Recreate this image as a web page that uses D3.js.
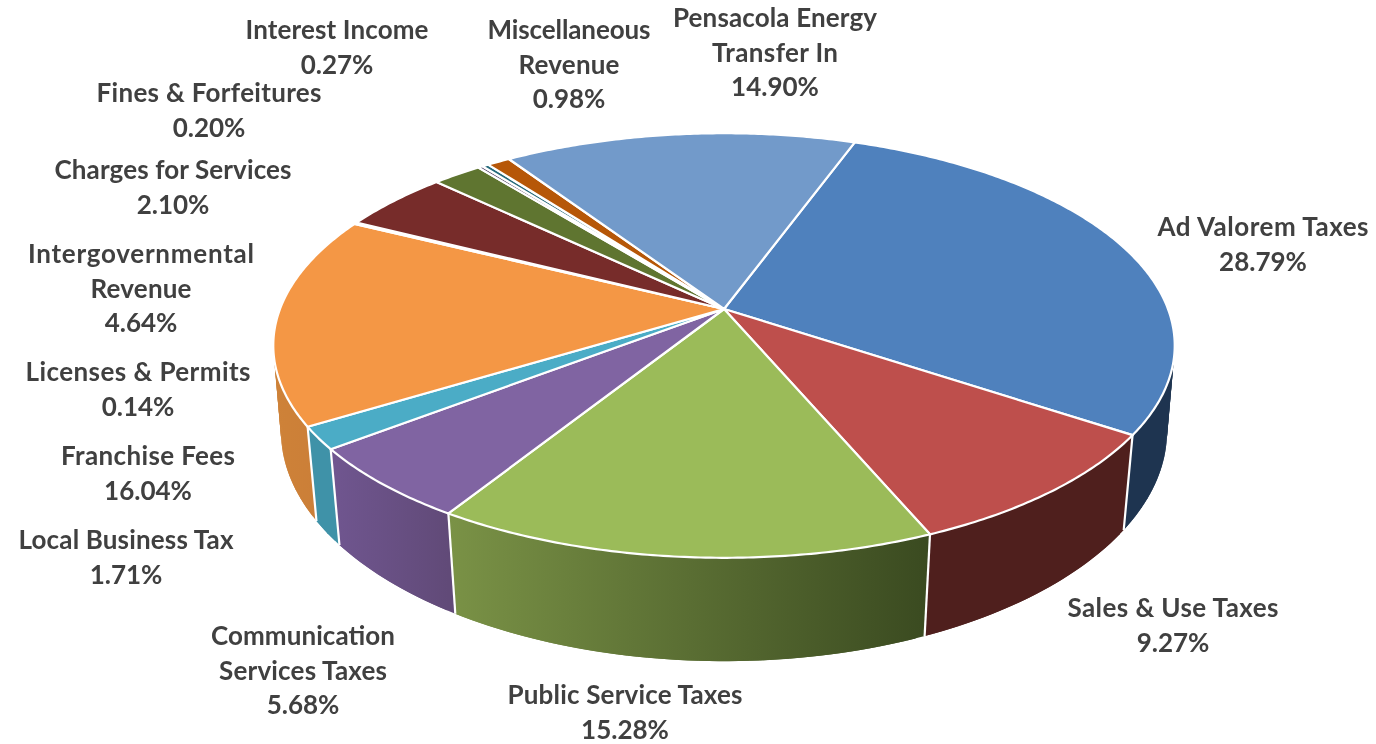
<!DOCTYPE html>
<html><head><meta charset="utf-8">
<script src="https://cdn.jsdelivr.net/npm/d3@7"></script>
<style>html,body{margin:0;background:#fff}svg{display:block;filter:blur(0.45px)}</style></head>
<body><svg id="c" width="1376" height="744"></svg>
<script>
const categories=["Ad Valorem Taxes","Sales & Use Taxes","Public Service Taxes","Communication Services Taxes","Local Business Tax","Franchise Fees","Licenses & Permits","Intergovernmental Revenue","Charges for Services","Fines & Forfeitures","Interest Income","Miscellaneous Revenue","Pensacola Energy Transfer In"];
const values=[28.79,9.27,15.28,5.68,1.71,16.04,0.14,4.64,2.10,0.20,0.27,0.98,14.90];
const topColors=["#4F81BD","#BE4F4C","#9BBB59","#8064A2","#4BACC6","#F49745","#2C4D75","#772C2A","#5F7530","#4D3B62","#276A7C","#B65708","#729ACA"];
const sideStart=["#1E3450","#4F1F1D","#7A9246","#705690","#3F92A8","#CE8238","#1E3450","#4F1F1D","#3B4A20","#33274A","#1A4752","#7A3A05","#4C6A90"];
const sideEnd=["#1E3450","#4F1F1D","#3A4A20","#614A78","#3F92A8","#C97C38","#1E3450","#4F1F1D","#3B4A20","#33274A","#1A4752","#7A3A05","#4C6A90"];
const labelLines=[["Ad Valorem Taxes"],["Sales & Use Taxes"],["Public Service Taxes"],["Communication","Services Taxes"],["Local Business Tax"],["Franchise Fees"],["Licenses & Permits"],["Intergovernmental","Revenue"],["Charges for Services"],["Fines & Forfeitures"],["Interest Income"],["Miscellaneous","Revenue"],["Pensacola Energy","Transfer In"]];
const labelWidths=[[211],[211],[235],[184,168],[215],[174],[225],[226,101],[237],[225],[183],[163,101],[204,126]];
const labelX=[1263,1173,625,303,126,148,138,141,173,209,337,569,775];
const labelY=[236,617,704,645,549,465,381,263,179,102,39,39,27];

const W=1376,H=744,cx=724,cy=309,R=444,S=206,k=0.172;
const depthY=86,growY=1.07;
const topPt=a=>{const u=Math.sin(a),v=-Math.cos(a),d=1-k*v;return [cx+R*u/d,cy+S*v/d];};
const botPt=a=>{const [x,y]=topPt(a),v=-Math.cos(a),sh=0.985-0.012*Math.max(v,0);return [cx+(x-cx)*sh,cy+depthY+(y-cy)*growY];};
const samples=(a0,a1,st)=>{const n=Math.max(2,Math.ceil((a1-a0)/st));return d3.range(n+1).map(i=>a0+(a1-a0)*i/n);};
const line=d3.line().curve(d3.curveLinear);

const arcs=d3.pie().sort(null).value(d=>d).startAngle(20*Math.PI/180).endAngle(380*Math.PI/180)(values);
const svg=d3.select("#c");
const defs=svg.append("defs");
arcs.forEach((d,i)=>{
  const xs=samples(d.startAngle,d.endAngle,0.01).map(a=>topPt(a)[0]);
  const g=defs.append("linearGradient").attr("id","g"+i).attr("gradientUnits","userSpaceOnUse")
    .attr("x1",d3.min(xs)).attr("x2",d3.max(xs)).attr("y1",0).attr("y2",0);
  g.append("stop").attr("offset",0).attr("stop-color",sideStart[i]);
  g.append("stop").attr("offset",1).attr("stop-color",sideEnd[i]);
});
// side wall: overlapping quads per slice so the tangent silhouette is filled
const sideG=svg.append("g").selectAll("g").data(arcs).join("g").attr("fill",(d,i)=>`url(#g${i})`);
sideG.selectAll("path").data(d=>{
    const s=samples(d.startAngle,d.endAngle,0.02);
    return s.slice(0,-1).map((a,i)=>[a,s[Math.min(i+2,s.length-1)]]);
  }).join("path")
  .attr("d",([a,b])=>line([topPt(a),topPt(b),botPt(b),botPt(a)])+"Z");
svg.append("g").selectAll("line").data(arcs).join("line")
  .attr("x1",d=>topPt(d.startAngle)[0]).attr("y1",d=>topPt(d.startAngle)[1])
  .attr("x2",d=>botPt(d.startAngle)[0]).attr("y2",d=>botPt(d.startAngle)[1])
  .attr("stroke","#fff").attr("stroke-width",2.2);
svg.append("g").selectAll("path").data(arcs).join("path")
  .attr("d",d=>line([[cx,cy],...samples(d.startAngle,d.endAngle,0.01).map(topPt)])+"Z")
  .attr("fill",(d,i)=>topColors[i]).attr("stroke","#fff").attr("stroke-width",2.2).attr("stroke-linejoin","round");

const pct=d3.format(".2f");
const lab=svg.append("g").attr("font-family","Lato").attr("font-weight",700).attr("font-size",26).attr("fill","#404040").attr("text-anchor","middle");
values.forEach((v,i)=>{
  labelLines[i].forEach((t,j)=>lab.append("text").attr("x",labelX[i]).attr("y",labelY[i]+j*34.5)
    .attr("textLength",labelWidths[i][j]).attr("lengthAdjust","spacing").text(t));
  lab.append("text").attr("x",labelX[i]).attr("y",labelY[i]+labelLines[i].length*34.5).text(pct(v)+"%");
});
</script></body></html>
